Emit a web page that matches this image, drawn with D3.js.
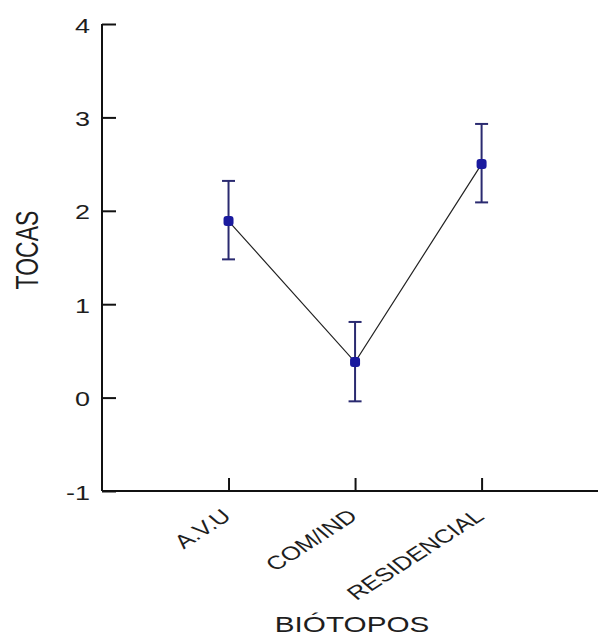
<!DOCTYPE html>
<html>
<head>
<meta charset="utf-8">
<script src="https://cdn.jsdelivr.net/npm/d3@7"></script>
<style>
  body { margin: 0; background: #fff; }
  text { font-family: "Liberation Sans", Arial, sans-serif; fill: #1e1e1e; }
</style>
</head>
<body>
<div id="main"></div>
<script>
// Data
var categories = ['A.V.U', 'COM/IND', 'RESIDENCIAL'];
var means = [1.89, 0.38, 2.50];
var upper = [2.32, 0.81, 2.93];
var lower = [1.48, -0.04, 2.09];
var yTicks = [-1, 0, 1, 2, 3, 4];

var svgWidth = 599;
var svgHeight = 637;
// the original picture is stretched sideways, texts get the same stretch
var stretch = 1.35;

var svg = d3.select('#main')
	.append('svg')
	.attr('width', svgWidth)
	.attr('height', svgHeight);

// categories sit at positions 1, 2, 3
var xScale = d3.scaleLinear().domain([0, 3.92]).range([102, 598]);
var yScale = d3.scaleLinear().domain([-1, 4]).range([491, 24]);

var points = categories.map(function(c, i) {
	return {cat: c, pos: i + 1, mean: means[i], hi: upper[i], lo: lower[i]};
});

// axes
var yAxis = d3.axisRight(yScale).tickValues(yTicks).tickSize(14).tickFormat('');
var xAxis = d3.axisTop(xScale).tickValues([1, 2, 3]).tickSize(13).tickFormat('');

svg.append('g')
	.attr('transform', `translate(${xScale(0)}, 0)`)
	.call(yAxis)
	.call(function(g) {
		g.select('.domain').attr('d', `M0,${yScale(4)}V${yScale(-1)}`).attr('stroke', '#111').attr('stroke-width', 2);
		g.selectAll('.tick line').attr('stroke', '#111').attr('stroke-width', 2);
	});

svg.append('g')
	.attr('transform', `translate(0, ${yScale(-1)})`)
	.call(xAxis)
	.call(function(g) {
		g.select('.domain').attr('d', `M${xScale(0)},0H${xScale(3.92)}`).attr('stroke', '#111').attr('stroke-width', 2);
		g.selectAll('.tick line').attr('stroke', '#111').attr('stroke-width', 2);
	});

// y tick labels
svg.selectAll('.ylab')
	.data(yTicks)
	.enter()
	.append('text')
	.attr('class', 'ylab')
	.attr('text-anchor', 'end')
	.attr('dy', '0.38em')
	.style('font-size', '20px')
	.attr('transform', function(d) {
		return `translate(${xScale(0) - 12}, ${yScale(d) + 1}) scale(${stretch}, 1)`;
	})
	.text(function(d) { return d; });

// x tick labels, rotated
svg.selectAll('.xlab')
	.data(points)
	.enter()
	.append('text')
	.attr('class', 'xlab')
	.attr('text-anchor', 'end')
	.style('font-size', '19px')
	.attr('transform', function(d) {
		return `translate(${xScale(d.pos) + 4}, ${yScale(-1) + 27}) scale(${stretch}, 1) rotate(-41)`;
	})
	.text(function(d) { return d.cat; });

// axis titles
svg.append('text')
	.attr('text-anchor', 'middle')
	.style('font-size', '22px')
	.attr('transform', `translate(${(xScale(1) + xScale(3)) / 2 - 3}, 632) scale(${stretch}, 1)`)
	.text('BIÓTOPOS');

svg.append('text')
	.attr('text-anchor', 'middle')
	.style('font-size', '23px')
	.attr('transform', `translate(38, ${yScale(1.58)}) scale(${stretch}, 1) rotate(-90)`)
	.text('TOCAS');

// connecting line
var line = d3.line()
	.x(function(d) { return xScale(d.pos); })
	.y(function(d) { return yScale(d.mean); });

svg.append('path')
	.datum(points)
	.attr('d', line)
	.attr('fill', 'none')
	.attr('stroke', '#222')
	.attr('stroke-width', 1.2);

// error bars
var capHalf = 6.5;
var bars = svg.selectAll('.err')
	.data(points)
	.enter()
	.append('g')
	.attr('class', 'err')
	.attr('stroke', '#2a2a70')
	.attr('stroke-width', 2);

bars.append('line')
	.attr('x1', function(d) { return xScale(d.pos); })
	.attr('x2', function(d) { return xScale(d.pos); })
	.attr('y1', function(d) { return yScale(d.hi); })
	.attr('y2', function(d) { return yScale(d.lo); });

bars.append('line')
	.attr('x1', function(d) { return xScale(d.pos) - capHalf; })
	.attr('x2', function(d) { return xScale(d.pos) + capHalf; })
	.attr('y1', function(d) { return yScale(d.hi); })
	.attr('y2', function(d) { return yScale(d.hi); });

bars.append('line')
	.attr('x1', function(d) { return xScale(d.pos) - capHalf; })
	.attr('x2', function(d) { return xScale(d.pos) + capHalf; })
	.attr('y1', function(d) { return yScale(d.lo); })
	.attr('y2', function(d) { return yScale(d.lo); });

// mean markers
svg.selectAll('.dot')
	.data(points)
	.enter()
	.append('rect')
	.attr('class', 'dot')
	.attr('x', function(d) { return xScale(d.pos) - 5; })
	.attr('y', function(d) { return yScale(d.mean) - 5; })
	.attr('width', 10)
	.attr('height', 10)
	.attr('rx', 3)
	.attr('fill', '#1a1a9e');
</script>
</body>
</html>
